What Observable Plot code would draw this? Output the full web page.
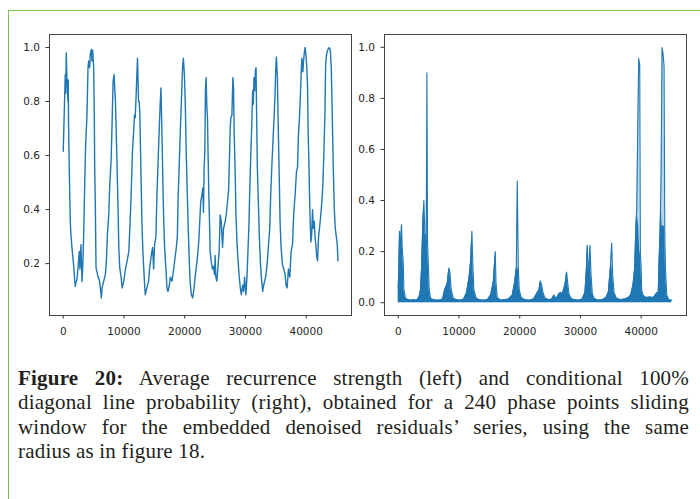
<!DOCTYPE html>
<html><head><meta charset="utf-8">
<script src="https://cdn.jsdelivr.net/npm/d3@7"></script>
<script src="https://cdn.jsdelivr.net/npm/@observablehq/plot@0.6"></script>
<style>
html,body{margin:0;padding:0;background:#fff;}
body{width:700px;height:499px;overflow:hidden;position:relative;}
#border{position:absolute;left:8px;top:10px;width:760px;height:560px;border-top:1.5px solid #7cc04b;border-left:1.5px solid #7cc04b;}
#left{position:absolute;left:0;top:0;}
#right{position:absolute;left:335px;top:0;}
#caption{position:absolute;left:18px;top:366px;width:671px;font-family:"Liberation Serif","DejaVu Serif",serif;font-size:21px;letter-spacing:0.2px;line-height:24.4px;color:#231f20;}
#caption .j{text-align:justify;text-align-last:justify;white-space:nowrap;}
#caption b{font-weight:bold;}
</style>
</head><body>
<div id="border"></div>
<div id="left"></div>
<div id="right"></div>
<div id="caption">
<div class="j"><b>Figure 20:</b> Average recurrence strength (left) and conditional 100%</div>
<div class="j">diagonal line probability (right), obtained for a 240 phase points sliding</div>
<div class="j">window for the embedded denoised residuals’ series, using the same</div>
<div>radius as in figure 18.</div>
</div>
<script>
// ---- Left panel: average recurrence strength ----
const leftX = [0,100,330,420,500,600,700,770,830,880,990,1160,1270,1430,1710,1850,1980,2100,2260,2420,2640,2750,2920,3090,3200,3360,3530,3690,3910,4080,4190,4350,4460,4630,4740,4850,5010,5120,5180,5290,5400,5560,5730,5950,6170,6280,6390,6670,6940,7110,7270,7490,7660,7880,8040,8210,8370,8480,8600,8710,8870,9040,9150,9310,9530,9700,9970,10250,10520,10800,11020,11180,11400,11570,11740,11850,12010,12120,12230,12400,12510,12620,12730,12840,12950,13110,13330,13500,13770,14050,14210,14490,14710,14880,15040,15260,15430,15590,15810,15980,16090,16200,16310,16420,16530,16690,16910,17080,17250,17470,17630,17910,18180,18460,18620,18790,18900,19120,19280,19450,19670,19780,19950,20110,20220,20390,20550,20720,20880,21100,21320,21540,21760,22040,22310,22480,22640,22810,22980,23090,23200,23310,23420,23530,23640,23750,23860,23970,24080,24190,24350,24570,24740,24900,25010,25120,25290,25450,25670,25840,26010,26230,26390,26670,26830,27050,27220,27380,27490,27600,27770,27930,28040,28150,28320,28430,28600,28760,28980,29150,29310,29530,29700,29860,30080,30250,30410,30580,30690,30850,31020,31190,31290,31400,31520,31630,31740,31850,31960,32120,32290,32450,32620,32840,33000,33170,33390,33610,33830,34000,34160,34380,34550,34710,34880,34990,35100,35260,35370,35480,35590,35700,35870,36090,36310,36530,36690,36860,37080,37300,37520,37740,37960,38180,38400,38570,38730,38900,39010,39170,39280,39450,39560,39720,39830,39950,40110,40220,40330,40440,40550,40660,40770,40880,41050,41160,41320,41490,41600,41710,41870,42040,42310,42590,42760,42920,43090,43200,43360,43580,43800,43970,44130,44300,44460,44630,44790,44960,45120,45230];
const leftY = [0.616,0.70,0.90,0.83,0.98,0.89,0.85,0.80,0.88,0.715,0.556,0.357,0.307,0.26,0.196,0.15,0.116,0.13,0.14,0.18,0.245,0.18,0.27,0.134,0.18,0.30,0.49,0.64,0.75,0.925,0.95,0.925,0.975,0.993,0.95,0.99,0.925,0.74,0.556,0.406,0.184,0.17,0.15,0.14,0.097,0.073,0.11,0.135,0.16,0.21,0.307,0.38,0.49,0.58,0.715,0.875,0.90,0.85,0.80,0.70,0.556,0.39,0.258,0.184,0.15,0.11,0.135,0.18,0.21,0.245,0.357,0.456,0.616,0.68,0.75,0.74,0.826,0.90,0.96,0.80,0.80,0.75,0.616,0.49,0.357,0.245,0.15,0.085,0.11,0.135,0.18,0.23,0.26,0.18,0.27,0.30,0.456,0.556,0.70,0.80,0.85,0.74,0.616,0.49,0.37,0.26,0.18,0.11,0.097,0.12,0.15,0.135,0.18,0.23,0.26,0.30,0.43,0.58,0.69,0.80,0.937,0.96,0.90,0.78,0.64,0.49,0.357,0.23,0.135,0.085,0.073,0.11,0.16,0.21,0.28,0.357,0.43,0.45,0.48,0.39,0.556,0.616,0.85,0.888,0.78,0.74,0.59,0.456,0.357,0.245,0.21,0.18,0.19,0.16,0.23,0.15,0.135,0.18,0.245,0.38,0.357,0.26,0.33,0.357,0.38,0.43,0.47,0.60,0.70,0.74,0.75,0.888,0.85,0.68,0.53,0.39,0.28,0.22,0.15,0.11,0.085,0.12,0.097,0.15,0.085,0.15,0.245,0.345,0.456,0.58,0.70,0.84,0.79,0.888,0.84,0.912,0.925,0.74,0.556,0.43,0.30,0.21,0.15,0.097,0.12,0.135,0.16,0.21,0.28,0.33,0.456,0.58,0.66,0.74,0.83,0.925,0.965,0.888,0.74,0.616,0.49,0.357,0.26,0.195,0.18,0.16,0.12,0.11,0.18,0.15,0.245,0.27,0.39,0.456,0.54,0.556,0.68,0.74,0.80,0.90,0.96,0.91,0.95,0.986,1.0,0.975,0.925,0.86,0.68,0.58,0.456,0.357,0.28,0.30,0.40,0.33,0.357,0.29,0.27,0.23,0.21,0.30,0.357,0.43,0.50,0.616,0.76,0.937,0.975,0.993,1.0,0.99,0.925,0.74,0.556,0.40,0.33,0.30,0.27,0.21];

// ---- Right panel: conditional 100% diagonal line probability ----
const rightX = [0,100,210,380,540,650,820,930,1200,1600,2000,2500,3000,3400,3670,3840,4060,4220,4390,4610,4720,4830,4940,5100,5320,5800,6300,6800,7300,7630,8070,8340,8510,8730,9060,9600,10200,10800,11250,11640,11910,12130,12300,12460,12790,13300,14000,14700,15210,15650,15980,16090,16310,16900,17600,18200,18780,19160,19440,19600,19770,19930,20260,20900,21600,22300,22900,23170,23390,23610,23830,24160,24800,25300,25640,26000,26460,26740,27010,27450,27720,27890,28110,28440,29000,29700,30300,30740,30950,31130,31290,31400,31570,31740,31960,32230,32900,33600,34200,34590,34920,35140,35310,35530,35910,36600,37300,37900,38270,38650,38930,39090,39260,39590,39760,39870,39980,40090,40310,40800,41400,42000,42620,42800,42940,43110,43270,43440,43600,43770,43880,43990,44210,44590,45030];
const rightTop = [0.06,0.14,0.28,0.20,0.306,0.22,0.16,0.05,0.018,0.012,0.01,0.012,0.01,0.02,0.05,0.136,0.32,0.40,0.27,0.25,0.90,0.24,0.16,0.05,0.018,0.012,0.01,0.01,0.015,0.05,0.075,0.136,0.12,0.05,0.018,0.012,0.01,0.015,0.04,0.095,0.16,0.28,0.136,0.05,0.02,0.012,0.01,0.012,0.03,0.08,0.20,0.08,0.02,0.01,0.012,0.015,0.03,0.08,0.136,0.476,0.136,0.05,0.02,0.012,0.01,0.015,0.04,0.05,0.085,0.07,0.04,0.018,0.012,0.015,0.03,0.015,0.035,0.04,0.035,0.07,0.12,0.08,0.035,0.018,0.012,0.01,0.015,0.04,0.12,0.225,0.136,0.12,0.225,0.11,0.035,0.018,0.01,0.012,0.02,0.04,0.136,0.234,0.11,0.04,0.018,0.012,0.015,0.02,0.03,0.07,0.136,0.267,0.365,0.957,0.93,0.19,0.145,0.05,0.03,0.02,0.022,0.02,0.04,0.03,0.16,0.28,0.49,0.999,0.975,0.925,0.29,0.136,0.03,0.01,0.01];
const rightSolid = [0.06,0.14,0.28,0.20,0.306,0.22,0.16,0.05,0.018,0.012,0.01,0.012,0.01,0.02,0.05,0.136,0.32,0.40,0.27,0.25,0.25,0.24,0.16,0.05,0.018,0.012,0.01,0.01,0.015,0.05,0.075,0.136,0.12,0.05,0.018,0.012,0.01,0.015,0.04,0.095,0.16,0.28,0.136,0.05,0.02,0.012,0.01,0.012,0.03,0.08,0.20,0.08,0.02,0.01,0.012,0.015,0.03,0.08,0.136,0.13,0.136,0.05,0.02,0.012,0.01,0.015,0.04,0.05,0.085,0.07,0.04,0.018,0.012,0.015,0.03,0.015,0.035,0.04,0.035,0.07,0.12,0.08,0.035,0.018,0.012,0.01,0.015,0.04,0.12,0.225,0.136,0.12,0.225,0.11,0.035,0.018,0.01,0.012,0.02,0.04,0.136,0.15,0.11,0.04,0.018,0.012,0.015,0.02,0.03,0.07,0.136,0.267,0.365,0.30,0.20,0.19,0.145,0.05,0.03,0.02,0.022,0.02,0.04,0.03,0.16,0.28,0.40,0.30,0.30,0.30,0.29,0.136,0.03,0.01,0.01];

const xTicks = [0, 10000, 20000, 30000, 40000];
const leftYTicks = [0.2, 0.4, 0.6, 0.8, 1.0];
const rightYTicks = [0.0, 0.2, 0.4, 0.6, 0.8, 1.0];
const xDomain = [-2260, 47460];

const blue = "#1f77b4";
const leftData = leftX.map((x, i) => ({x, y: leftY[i]}));
const rightData = rightX.map((x, i) => ({x, top: rightTop[i], solid: rightSolid[i]}));

const common = {
  width: 355, height: 345,
  marginLeft: 49, marginRight: 4, marginTop: 34, marginBottom: 30,
  style: {fontFamily: "'DejaVu Sans', sans-serif", fontSize: "10.5px", color: "#262626", background: "transparent"}
};

function axes(yTicks) {
  return [
    Plot.axisX({ticks: xTicks, tickFormat: d3.format("d"), tickSize: 3.5, tickPadding: 9, label: null, stroke: "#333"}),
    Plot.axisY({ticks: yTicks, tickFormat: d3.format(".1f"), tickSize: 3.5, tickPadding: 6, label: null, stroke: "#333"}),
    Plot.frame({stroke: "#444", strokeWidth: 1})
  ];
}

const left = Plot.plot({
  ...common,
  x: {domain: xDomain},
  y: {domain: [0.008, 1.048]},
  marks: [
    Plot.line(leftData, {x: "x", y: "y", stroke: blue, strokeWidth: 1.4}),
    ...axes(leftYTicks)
  ]
});
document.getElementById("left").appendChild(left);

const right = Plot.plot({
  ...common,
  x: {domain: xDomain},
  y: {domain: [-0.05, 1.05]},
  marks: [
    Plot.areaY(rightData, {x: "x", y1: 0, y2: "top", fill: blue, fillOpacity: 0.3}),
    Plot.areaY(rightData, {x: "x", y1: 0, y2: "solid", fill: blue}),
    Plot.line(rightData, {x: "x", y: "top", stroke: blue, strokeWidth: 1.1}),
    ...axes(rightYTicks)
  ]
});
document.getElementById("right").appendChild(right);
</script>
</body></html>
